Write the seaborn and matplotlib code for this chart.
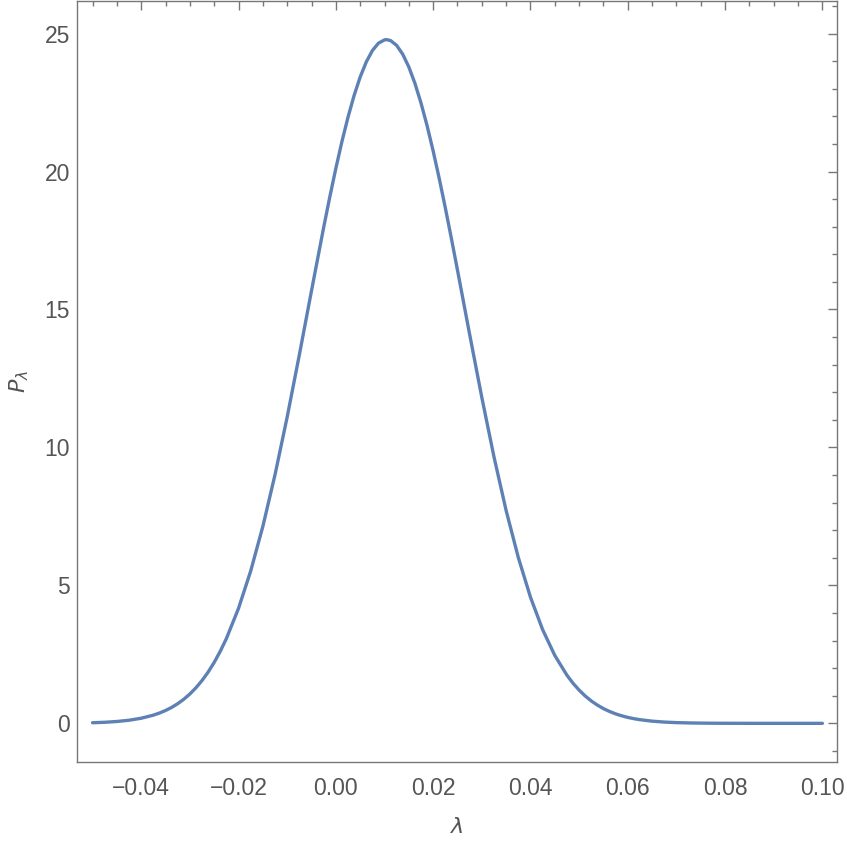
import numpy as np
import pandas as pd
import seaborn as sns
import matplotlib.pyplot as plt
from matplotlib.ticker import MultipleLocator

sns.set_theme(style="white")
plt.rcParams['font.family'] = ['Liberation Sans', 'DejaVu Sans']
plt.rcParams['mathtext.fontset'] = 'dejavusans'

# values
lam = [-0.05, -0.0475, -0.045, -0.0425, -0.04, -0.0375, -0.035, -0.0325,
       -0.03, -0.0275, -0.025, -0.0225, -0.02, -0.0175, -0.015, -0.0125,
       -0.01, -0.0075, -0.005, -0.0025, 0.0, 0.0025, 0.005, 0.0075,
       0.01, 0.0125, 0.015, 0.0175, 0.02, 0.0225, 0.025, 0.0275,
       0.03, 0.0325, 0.035, 0.0375, 0.04, 0.0425, 0.045, 0.0475,
       0.05, 0.0525, 0.055, 0.0575, 0.06, 0.0625, 0.065, 0.0675,
       0.07, 0.0725, 0.075, 0.0775, 0.08, 0.0825, 0.085, 0.0875,
       0.09, 0.0925, 0.095, 0.0975, 0.10]
p_lam = [0.022, 0.038, 0.067, 0.112, 0.185, 0.297, 0.465, 0.712,
         1.064, 1.552, 2.209, 3.071, 4.168, 5.521, 7.139, 9.011,
         11.104, 13.356, 15.682, 17.976, 20.114, 21.969, 23.424, 24.381,
         24.77, 24.57, 23.789, 22.484, 20.744, 18.683, 16.425, 14.097,
         11.811, 9.659, 7.711, 6.010, 4.572, 3.395, 2.461, 1.742,
         1.204, 0.811, 0.534, 0.343, 0.215, 0.132, 0.079, 0.046,
         0.026, 0.015, 0.008, 0.004, 0.002, 0.001, 0.0, 0.0,
         0.0, 0.0, 0.0, 0.0, 0.0]

# extra readings where the curve bends most
lam_fine = [-0.03625, -0.03375, -0.03125, -0.02875, -0.02625, -0.02375,
            -0.00125, 0.00125, 0.00375, 0.00625, 0.00875, 0.0104, 0.01125,
            0.01375, 0.01625, 0.01875, 0.02125, 0.02375,
            0.04875, 0.05125, 0.05375, 0.05625, 0.05875, 0.06125]
p_fine = [0.373, 0.577, 0.873, 1.289, 1.857, 2.613,
          19.072, 21.085, 22.754, 23.970, 24.650, 24.78, 24.746,
          24.249, 23.197, 21.662, 19.746, 17.571,
          1.452, 0.991, 0.661, 0.430, 0.273, 0.169]

data = pd.DataFrame({"lambda": lam + lam_fine, "P": p_lam + p_fine})
data = data.sort_values("lambda").reset_index(drop=True)

fig = plt.figure(figsize=(8.47, 8.47), dpi=100)
ax = fig.add_axes([0.0909, 0.1004, 0.8973, 0.8981])

sns.lineplot(x="lambda", y="P", data=data, color="#5E81B5", linewidth=2.4,
             sort=False, ax=ax)

ax.set_xlim(-0.0532, 0.1030)
ax.set_ylim(-1.40, 26.17)

ax.xaxis.set_major_locator(MultipleLocator(0.02))
ax.xaxis.set_minor_locator(MultipleLocator(0.005))
ax.yaxis.set_major_locator(MultipleLocator(5))
ax.yaxis.set_minor_locator(MultipleLocator(1))
ax.xaxis.set_major_formatter(plt.FuncFormatter(lambda v, _: f"{v:.2f}".replace("-", "\u2212")))

frame = "#777777"
for s in ax.spines.values():
    s.set_color(frame)
    s.set_linewidth(1.0)

ax.tick_params(which="both", direction="in", top=True, right=True,
               color=frame, width=1.0, labelsize=16.5, labelcolor="#555555")
ax.tick_params(which="major", length=6.5)
ax.tick_params(which="minor", length=3.6)
ax.tick_params(axis="x", which="major", pad=11)
ax.tick_params(axis="y", which="major", pad=5)

ax.set_xlabel(r"$\lambda$", fontsize=16, color="#555555", labelpad=12)
ax.set_ylabel(r"$P_\lambda$", fontsize=16, color="#555555", labelpad=10)

fig.savefig("out.png", dpi=100)
